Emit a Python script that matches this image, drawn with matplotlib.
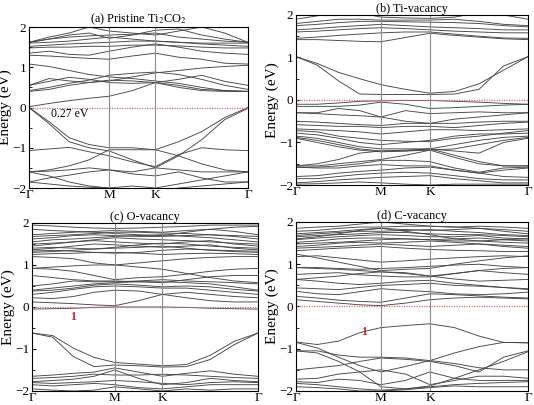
import matplotlib
matplotlib.use("Agg")
import matplotlib.pyplot as plt

plt.rcParams['font.family'] = ['Liberation Serif', 'DejaVu Serif']
plt.rcParams['mathtext.fontset'] = 'stix'

# k-path: G - M - K - G (hexagonal lengths 1 : 0.577 : 1.155)
kpts = [0.0, 0.25, 0.5, 0.75, 1.0, 1.289, 1.577, 1.866, 2.155, 2.443, 2.732]
k_ticks = [0.0, 1.0, 1.577, 2.732]
k_labels = ['Γ', 'M', 'K', 'Γ']

# (a) pristine Ti2CO2
bands_a = [
    [0.02, 0.1, 0.17, 0.23, 0.28, 0.42, 0.62, 0.5, 0.42, 0.4, 0.4],
    [0.4, 0.45, 0.55, 0.62, 0.68, 0.66, 0.62, 0.55, 0.45, 0.42, 0.4],
    [0.42, 0.5, 0.6, 0.68, 0.8, 0.85, 0.88, 0.82, 0.7, 0.55, 0.45],
    [0.55, 0.65, 0.75, 0.7, 0.62, 0.6, 0.62, 0.7, 0.8, 0.65, 0.55],
    [0.55, 0.72, 0.66, 0.62, 0.66, 0.76, 0.86, 0.92, 0.98, 1.02, 1.05],
    [1.08, 1.02, 0.92, 0.82, 0.76, 0.72, 0.66, 0.6, 0.5, 0.42, 0.4],
    [1.3, 1.28, 1.25, 1.22, 1.2, 1.28, 1.35, 1.25, 1.2, 1.1, 1.08],
    [1.35, 1.4, 1.32, 1.3, 1.4, 1.5, 1.58, 1.5, 1.4, 1.35, 1.32],
    [1.48, 1.5, 1.5, 1.52, 1.52, 1.55, 1.55, 1.53, 1.5, 1.48, 1.48],
    [1.52, 1.55, 1.58, 1.6, 1.62, 1.65, 1.65, 1.62, 1.58, 1.55, 1.52],
    [1.6, 1.62, 1.65, 1.7, 1.75, 1.7, 1.65, 1.62, 1.6, 1.6, 1.6],
    [1.62, 1.7, 1.75, 1.78, 1.8, 1.82, 1.85, 1.75, 1.7, 1.65, 1.62],
    [1.62, 1.75, 1.85, 2.0, 1.9, 1.85, 1.8, 1.9, 2.0, 1.85, 1.62],
    [1.62, 1.7, 1.8, 1.85, 1.72, 1.8, 1.92, 1.95, 1.8, 1.7, 1.62],
    [0.0, -0.35, -0.75, -0.92, -1.0, -1.0, -1.05, -0.85, -0.6, -0.25, 0.0],
    [0.0, -0.4, -0.85, -1.0, -1.08, -1.3, -1.5, -1.2, -0.8, -0.3, -0.02],
    [-1.07, -1.03, -0.99, -1.1, -1.2, -1.35, -1.47, -1.17, -1.0, -1.05, -1.07],
    [-1.6, -1.55, -1.45, -1.3, -1.05, -1.05, -1.05, -1.2, -1.4, -1.55, -1.6],
    [-1.6, -1.58, -1.55, -1.5, -1.55, -1.6, -1.5, -1.55, -1.6, -1.6, -1.6],
    [-1.6, -1.7, -1.85, -1.95, -2.0, -1.95, -2.0, -1.9, -1.8, -1.7, -1.6],
    [-1.85, -1.75, -1.68, -1.6, -1.55, -1.65, -1.7, -1.6, -1.75, -1.85, -1.85],
    [-1.85, -1.9, -1.95, -1.98, -2.0, -2.05, -2.1, -2.0, -1.95, -1.9, -1.85],
]

# (b) Ti vacancy
bands_b = [
    [1.02, 0.86, 0.65, 0.5, 0.36, 0.25, 0.16, 0.2, 0.38, 0.7, 1.02],
    [1.02, 0.82, 0.45, 0.14, 0.13, 0.13, 0.13, 0.14, 0.25, 0.8, 1.02],
    [1.42, 1.42, 1.4, 1.38, 1.37, 1.47, 1.57, 1.52, 1.48, 1.44, 1.42],
    [1.45, 1.48, 1.52, 1.55, 1.58, 1.6, 1.6, 1.55, 1.5, 1.46, 1.45],
    [1.6, 1.62, 1.65, 1.68, 1.7, 1.68, 1.65, 1.62, 1.6, 1.58, 1.58],
    [1.65, 1.68, 1.72, 1.75, 1.78, 1.75, 1.72, 1.7, 1.68, 1.65, 1.65],
    [1.75, 1.78, 1.82, 1.85, 1.85, 1.84, 1.83, 1.82, 1.8, 1.75, 1.72],
    [1.8, 1.85, 1.9, 1.9, 1.88, 1.88, 1.88, 1.9, 1.85, 1.78, 1.75],
    [1.9, 1.98, 2.05, 2.05, 1.95, 1.93, 1.92, 1.95, 2.05, 2.0, 1.9],
    [-0.1, -0.1, -0.07, -0.03, -0.02, -0.01, -0.01, -0.03, -0.05, -0.08, -0.1],
    [-0.15, -0.15, -0.15, -0.12, -0.05, -0.1, -0.2, -0.18, -0.15, -0.12, -0.1],
    [-0.3, -0.32, -0.35, -0.37, -0.4, -0.25, -0.32, -0.3, -0.28, -0.3, -0.3],
    [-0.3, -0.3, -0.2, -0.25, -0.4, -0.5, -0.55, -0.45, -0.4, -0.35, -0.3],
    [-0.5, -0.52, -0.55, -0.58, -0.6, -0.55, -0.55, -0.55, -0.52, -0.5, -0.5],
    [-0.58, -0.6, -0.62, -0.62, -0.65, -0.62, -0.62, -0.65, -0.6, -0.55, -0.52],
    [-0.68, -0.7, -0.72, -0.75, -0.8, -0.75, -0.7, -0.7, -0.72, -0.7, -0.68],
    [-0.72, -0.75, -0.85, -0.9, -0.95, -0.97, -0.98, -0.9, -0.85, -0.78, -0.72],
    [-0.78, -0.82, -0.9, -1.0, -1.05, -1.0, -0.95, -0.85, -0.8, -0.8, -0.78],
    [-0.85, -0.9, -1.0, -1.1, -1.15, -1.15, -1.15, -1.05, -0.95, -0.88, -0.85],
    [-0.88, -0.95, -1.05, -1.15, -1.2, -1.2, -1.18, -1.15, -1.05, -0.95, -0.88],
    [-0.9, -1.0, -1.1, -1.18, -1.22, -1.2, -1.15, -1.2, -1.25, -1.0, -0.9],
    [-1.55, -1.5, -1.4, -1.25, -1.2, -1.18, -1.15, -1.3, -1.45, -1.55, -1.55],
    [-1.55, -1.55, -1.5, -1.45, -1.4, -1.3, -1.18, -1.35, -1.5, -1.55, -1.55],
    [-1.58, -1.58, -1.55, -1.5, -1.42, -1.42, -1.45, -1.6, -1.7, -1.6, -1.58],
    [-1.58, -1.6, -1.6, -1.55, -1.52, -1.55, -1.55, -1.65, -1.72, -1.65, -1.6],
    [-1.8, -1.78, -1.72, -1.68, -1.65, -1.6, -1.58, -1.65, -1.72, -1.8, -1.82],
    [-1.85, -1.85, -1.8, -1.75, -1.72, -1.7, -1.72, -1.78, -1.85, -1.88, -1.88],
    [-1.95, -1.92, -1.88, -1.85, -1.82, -1.8, -1.78, -1.85, -1.9, -1.95, -1.95],
    [-1.98, -1.97, -1.95, -1.93, -1.95, -1.98, -2.0, -1.98, -1.98, -1.98, -1.98],
]

# (c) O vacancy
bands_c = [
    [-0.05, -0.04, -0.03, -0.01, 0.0, 0.0, 0.0, -0.01, -0.03, -0.04, -0.05],
    [0.12, 0.1, 0.08, 0.05, 0.03, 0.15, 0.3, 0.22, 0.15, 0.12, 0.12],
    [0.22, 0.2, 0.25, 0.35, 0.4, 0.38, 0.3, 0.35, 0.3, 0.25, 0.22],
    [0.3, 0.35, 0.42, 0.48, 0.5, 0.48, 0.45, 0.45, 0.4, 0.35, 0.3],
    [0.38, 0.4, 0.45, 0.52, 0.55, 0.52, 0.48, 0.5, 0.48, 0.42, 0.38],
    [0.4, 0.45, 0.5, 0.55, 0.58, 0.6, 0.6, 0.58, 0.55, 0.48, 0.4],
    [0.5, 0.55, 0.62, 0.6, 0.6, 0.62, 0.65, 0.62, 0.6, 0.58, 0.55],
    [0.75, 0.7, 0.65, 0.62, 0.62, 0.6, 0.58, 0.65, 0.72, 0.75, 0.75],
    [0.92, 0.9, 0.85, 0.75, 0.65, 0.7, 0.72, 0.78, 0.85, 0.9, 0.92],
    [0.92, 0.95, 0.98, 1.0, 1.0, 0.95, 0.9, 0.8, 0.7, 0.62, 0.58],
    [1.2, 1.18, 1.15, 1.05, 1.0, 1.05, 1.1, 1.15, 1.18, 1.2, 1.2],
    [1.25, 1.27, 1.28, 1.3, 1.3, 1.28, 1.25, 1.27, 1.28, 1.27, 1.25],
    [1.3, 1.32, 1.35, 1.38, 1.4, 1.42, 1.45, 1.4, 1.35, 1.32, 1.3],
    [1.33, 1.35, 1.33, 1.3, 1.28, 1.3, 1.35, 1.38, 1.36, 1.34, 1.33],
    [1.36, 1.4, 1.45, 1.5, 1.48, 1.45, 1.42, 1.45, 1.48, 1.4, 1.36],
    [1.4, 1.42, 1.4, 1.38, 1.42, 1.48, 1.52, 1.5, 1.45, 1.42, 1.4],
    [1.45, 1.5, 1.55, 1.58, 1.55, 1.52, 1.5, 1.55, 1.58, 1.5, 1.45],
    [1.5, 1.52, 1.55, 1.6, 1.65, 1.62, 1.6, 1.58, 1.55, 1.52, 1.5],
    [1.55, 1.6, 1.62, 1.65, 1.68, 1.7, 1.72, 1.68, 1.65, 1.6, 1.55],
    [1.62, 1.65, 1.7, 1.72, 1.7, 1.68, 1.68, 1.7, 1.72, 1.68, 1.62],
    [1.68, 1.7, 1.72, 1.75, 1.78, 1.78, 1.76, 1.75, 1.72, 1.7, 1.68],
    [1.72, 1.75, 1.78, 1.8, 1.82, 1.8, 1.78, 1.82, 1.85, 1.8, 1.72],
    [1.85, 1.82, 1.8, 1.78, 1.75, 1.72, 1.7, 1.78, 1.85, 1.9, 1.92],
    [1.95, 1.93, 1.9, 1.88, 1.87, 1.88, 1.9, 1.92, 1.95, 1.95, 1.95],
    [-0.62, -0.68, -0.98, -1.2, -1.32, -1.36, -1.4, -1.37, -1.15, -0.82, -0.62],
    [-0.62, -0.72, -1.18, -1.42, -1.38, -1.4, -1.43, -1.42, -1.25, -0.9, -0.62],
    [-1.65, -1.62, -1.58, -1.55, -1.45, -1.55, -1.65, -1.58, -1.52, -1.6, -1.65],
    [-1.7, -1.68, -1.65, -1.6, -1.62, -1.62, -1.6, -1.62, -1.65, -1.68, -1.7],
    [-1.78, -1.75, -1.72, -1.65, -1.5, -1.7, -1.85, -1.8, -1.7, -1.75, -1.78],
    [-1.8, -1.82, -1.8, -1.78, -1.75, -1.78, -1.82, -1.85, -1.8, -1.78, -1.8],
    [-1.85, -1.88, -1.85, -1.82, -1.85, -1.92, -1.95, -1.9, -1.85, -1.85, -1.85],
    [-1.95, -1.98, -2.0, -1.98, -1.9, -1.95, -2.0, -1.95, -1.98, -1.95, -1.95],
]

# (d) C vacancy
bands_d = [
    [0.16, 0.12, 0.08, 0.04, 0.02, 0.08, 0.16, 0.2, 0.22, 0.2, 0.18],
    [0.24, 0.2, 0.15, 0.12, 0.1, 0.2, 0.3, 0.28, 0.25, 0.22, 0.2],
    [0.36, 0.3, 0.28, 0.35, 0.42, 0.38, 0.35, 0.3, 0.28, 0.3, 0.34],
    [0.44, 0.42, 0.4, 0.45, 0.5, 0.52, 0.55, 0.5, 0.48, 0.45, 0.42],
    [0.64, 0.6, 0.55, 0.52, 0.55, 0.6, 0.62, 0.55, 0.5, 0.45, 0.4],
    [0.64, 0.68, 0.72, 0.78, 0.82, 0.78, 0.72, 0.65, 0.6, 0.62, 0.64],
    [0.76, 0.78, 0.8, 0.75, 0.72, 0.7, 0.7, 0.78, 0.85, 0.8, 0.76],
    [0.92, 0.9, 0.88, 0.85, 0.82, 0.8, 0.72, 0.78, 0.85, 0.9, 0.92],
    [0.92, 0.92, 0.9, 0.88, 0.9, 0.92, 0.95, 0.98, 1.0, 0.95, 0.92],
    [1.24, 1.15, 1.05, 0.95, 0.85, 0.88, 0.9, 1.0, 1.08, 1.15, 1.2],
    [1.18, 1.2, 1.15, 1.1, 1.05, 1.08, 1.12, 1.15, 1.18, 1.2, 1.18],
    [1.32, 1.35, 1.38, 1.4, 1.42, 1.38, 1.35, 1.33, 1.32, 1.3, 1.3],
    [1.38, 1.4, 1.42, 1.45, 1.48, 1.45, 1.42, 1.45, 1.48, 1.42, 1.38],
    [1.42, 1.45, 1.5, 1.52, 1.5, 1.52, 1.55, 1.52, 1.48, 1.45, 1.42],
    [1.48, 1.5, 1.52, 1.55, 1.58, 1.6, 1.58, 1.55, 1.55, 1.52, 1.5],
    [1.52, 1.55, 1.6, 1.62, 1.62, 1.6, 1.58, 1.6, 1.62, 1.58, 1.55],
    [1.58, 1.62, 1.65, 1.68, 1.7, 1.68, 1.65, 1.65, 1.68, 1.62, 1.6],
    [1.65, 1.68, 1.7, 1.72, 1.75, 1.75, 1.72, 1.7, 1.7, 1.68, 1.65],
    [1.68, 1.72, 1.75, 1.78, 1.78, 1.8, 1.82, 1.78, 1.75, 1.7, 1.68],
    [1.72, 1.75, 1.78, 1.82, 1.85, 1.82, 1.8, 1.82, 1.85, 1.78, 1.72],
    [1.78, 1.8, 1.85, 1.88, 1.88, 1.9, 1.9, 1.88, 1.85, 1.82, 1.78],
    [1.85, 1.88, 1.9, 1.95, 2.0, 1.95, 1.9, 1.88, 1.9, 1.88, 1.85],
    [1.6, 1.65, 1.72, 1.8, 1.85, 1.78, 1.7, 1.6, 1.55, 1.58, 1.6],
    [-0.84, -0.9, -0.82, -0.62, -0.5, -0.45, -0.41, -0.5, -0.7, -0.85, -0.86],
    [-0.85, -0.98, -1.2, -1.4, -1.55, -1.42, -1.28, -1.35, -1.45, -1.5, -1.5],
    [-1.05, -1.05, -1.15, -1.2, -1.2, -1.22, -1.28, -1.1, -0.95, -0.85, -0.86],
    [-1.5, -1.45, -1.4, -1.3, -1.22, -1.25, -1.3, -1.4, -1.55, -1.2, -1.05],
    [-1.72, -1.7, -1.6, -1.55, -1.5, -1.6, -1.85, -1.75, -1.65, -1.65, -1.7],
    [-1.78, -1.8, -1.72, -1.75, -1.85, -1.75, -1.55, -1.7, -1.75, -1.75, -1.75],
    [-1.82, -1.85, -1.9, -1.95, -1.98, -1.95, -1.9, -1.85, -1.82, -1.8, -1.78],
    [-1.9, -1.92, -1.95, -2.0, -2.0, -1.97, -1.92, -1.88, -1.9, -1.9, -1.9],
    [-1.05, -1.1, -1.3, -1.55, -1.9, -1.95, -1.88, -1.7, -1.5, -1.3, -1.07],
]

titles = ['(a) Pristine Ti$_2$CO$_2$', '(b) Ti-vacancy', '(c) O-vacancy', '(d) C-vacancy']
all_bands = [bands_a, bands_b, bands_c, bands_d]
# axes rectangles in figure fractions
rects = [
    [0.0543, 0.5358, 0.410, 0.3975],
    [0.5543, 0.5432, 0.4345, 0.4198],
    [0.0599, 0.0346, 0.4232, 0.4148],
    [0.5543, 0.0346, 0.4345, 0.4173],
]

fig = plt.figure(figsize=(5.34, 4.05), dpi=100)

for i in range(4):
    ax = fig.add_axes(rects[i])
    for b in all_bands[i]:
        ax.plot(kpts, b, color='#454545', linewidth=0.65)
    for kx in k_ticks[1:3]:
        ax.axvline(kx, color='#8a8a8a', linewidth=0.8)
    ax.axhline(0, color='#e06a6a', linewidth=0.9, linestyle=(0, (1, 1)))
    ax.set_xlim(0, 2.732)
    ax.set_ylim(-2, 2)
    ax.set_xticks(k_ticks)
    ax.set_xticklabels(k_labels)
    ax.set_yticks([-2, -1, 0, 1, 2])
    ax.set_yticks([-1.5, -0.5, 0.5, 1.5], minor=True)
    ax.tick_params(axis='both', direction='in', labelsize=9.5, length=3, pad=2)
    ax.tick_params(axis='y', which='minor', direction='in', length=2)
    ax.tick_params(axis='x', length=0, pad=1)
    ax.set_ylabel('Energy (eV)', fontsize=11, labelpad=0)
    ax.set_title(titles[i], fontsize=8.8, pad=2)
    for s in ax.spines.values():
        s.set_linewidth(0.8)
    if i == 0:
        ax.text(0.51, -0.17, '0.27 eV', fontsize=8.5, ha='center', va='center')
    if i == 2:
        ax.text(0.5, -0.24, '1', fontsize=8.5, color='#cc2222', fontweight='bold',
                ha='center', va='center')
    if i == 3:
        ax.text(0.8, -0.6, '1', fontsize=8.5, color='#cc2222', fontweight='bold',
                ha='center', va='center')

fig.savefig('out.png', dpi=100)
